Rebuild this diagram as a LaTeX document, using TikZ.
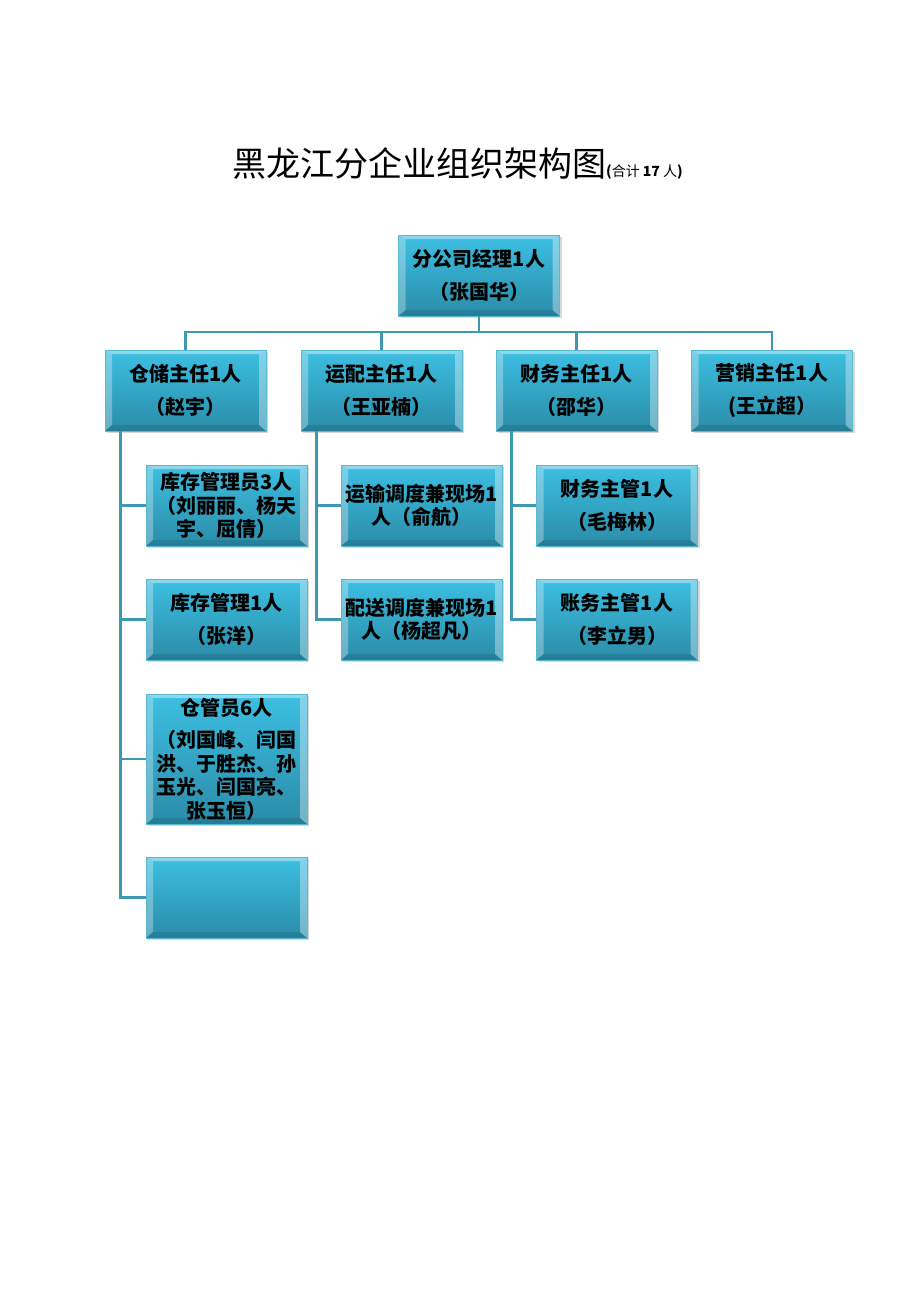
\documentclass[tikz,border=0pt]{standalone}
\usepackage{fontspec}
\setmainfont{Noto Sans CJK SC}
\usetikzlibrary{shadows}
\definecolor{boxtop}{HTML}{3DBFE2}
\definecolor{boxbot}{HTML}{2A8CA8}
\definecolor{boxedge}{HTML}{5CB8CE}
\definecolor{linec}{HTML}{3D98B0}
\tikzset{
  unitbox/.style={rectangle, draw=boxedge, line width=0.8pt,
    top color=boxtop, bottom color=boxbot,
    minimum width=161pt, minimum height=81pt, inner sep=2pt,
    align=center, font=\fontsize{20}{23.5}\selectfont\bfseries,
    drop shadow={shadow xshift=2pt, shadow yshift=-2pt, opacity=.3},
    bevel},
  bevel/.style={path picture={
    \path (path picture bounding box.north west) coordinate (bnw)
          (path picture bounding box.north east) coordinate (bne)
          (path picture bounding box.south west) coordinate (bsw)
          (path picture bounding box.south east) coordinate (bse);
    \fill[white,opacity=.4] (bnw) -- (bne) -- ([shift={(-7pt,-4pt)}]bne) -- ([shift={(7pt,-4pt)}]bnw) -- cycle;
    \fill[white,opacity=.3] (bnw) -- ([shift={(7pt,-4pt)}]bnw) -- ([shift={(7pt,6pt)}]bsw) -- (bsw) -- cycle;
    \fill[white,opacity=.35] (bne) -- ([shift={(-7pt,-4pt)}]bne) -- ([shift={(-7pt,6pt)}]bse) -- (bse) -- cycle;
    \fill[black,opacity=.1] (bsw) -- ([shift={(7pt,6pt)}]bsw) -- ([shift={(-7pt,6pt)}]bse) -- (bse) -- cycle;
  }},
  link/.style={draw=linec, line width=2.6pt}
}
\begin{document}
\begin{tikzpicture}[x=1pt,y=-1pt]
  \useasboundingbox[fill=white] (0,0) rectangle (920,1302);

  % title
  \node[anchor=base west, inner sep=0] (title) at (232,176)
    {\fontsize{34}{40}\selectfont 黑龙江分企业组织架构图{\fontsize{14}{16}\selectfont\textbf{(}合计 \textbf{17} 人\textbf{)}}};

  % connectors
  \coordinate (bus) at (479,332);

  % manager and heads
  \node[unitbox] (mgr) at (479,275.5) {分公司经理1人\\[9pt]（张国华）};
  \node[unitbox] (storage) at (185.5,390.5) {仓储主任1人\\[9pt]（赵宇）};
  \node[unitbox] (trans) at (381.5,390.5) {运配主任1人\\[9pt]（王亚楠）};
  \node[unitbox] (fin) at (576.5,390.5) {财务主任1人\\[9pt]（邵华）};
  \node[unitbox] (sales) at (772,390.5) {营销主任1人\\[9pt](王立超）};

  % storage staff
  \node[unitbox] (s1) at (226.5,505.5) {库存管理员3人\\（刘丽丽、杨天\\宇、屈倩）};
  \node[unitbox] (s2) at (226.5,619.5) {库存管理1人\\[9pt]（张洋）};
  \node[unitbox, minimum height=130pt] (s3) at (226.5,759) {仓管员6人\\[9pt]（刘国峰、闫国\\洪、于胜杰、孙\\玉光、闫国亮、\\张玉恒）};
  \node[unitbox] (s4) at (226.5,897.5) {};

  % transport staff
  \node[unitbox] (t1) at (421.5,505.5) {运输调度兼现场1\\人（俞航）};
  \node[unitbox] (t2) at (421.5,619.5) {配送调度兼现场1\\人（杨超凡）};

  % finance staff
  \node[unitbox] (f1) at (617,505.5) {财务主管1人\\[9pt]（毛梅林）};
  \node[unitbox] (f2) at (617,619.5) {账务主管1人\\[9pt]（李立男）};

  \draw[link] (mgr.south) -- (bus);
  \foreach \n in {storage, trans, fin, sales} {
    \draw[link] (bus) -| (\n.north);
  }
  \foreach \n in {s1, s2, s3, s4} {
    \draw[link] ([xshift=16pt]storage.south west) |- (\n.west);
  }
  \foreach \n in {t1, t2} {
    \draw[link] ([xshift=16pt]trans.south west) |- (\n.west);
  }
  \foreach \n in {f1, f2} {
    \draw[link] ([xshift=16pt]fin.south west) |- (\n.west);
  }
\end{tikzpicture}
\end{document}
